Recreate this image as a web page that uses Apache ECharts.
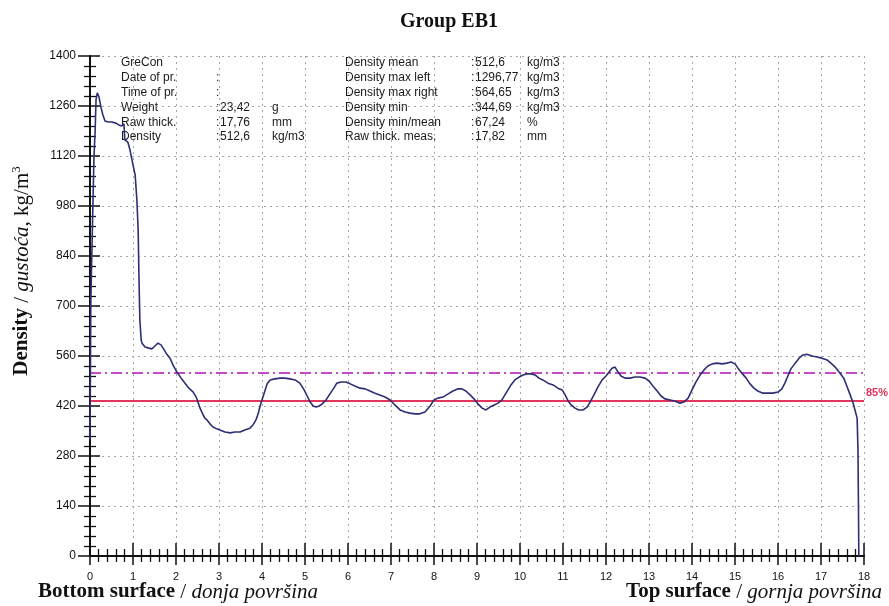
<!DOCTYPE html>
<html>
<head>
<meta charset="utf-8">
<script src="https://cdn.jsdelivr.net/npm/echarts@6/dist/echarts.min.js"></script>
<style>
  html, body { margin: 0; padding: 0; background: #fff; }
  #chart { width: 889px; height: 606px; }
</style>
</head>
<body>
<div id="chart"></div>
<script>
// Vertical density profile of panel EB1 (thickness in mm, density in kg/m3)
const thickness = [
  0.00, 0.02, 0.07, 0.09, 0.12, 0.14, 0.17, 0.21, 0.26, 0.30, 0.35, 0.42, 0.51, 0.60, 0.67, 0.74,
  0.79, 0.81, 0.88, 0.93, 1.00, 1.05, 1.09, 1.12, 1.14, 1.16, 1.19, 1.21, 1.28, 1.37, 1.44, 1.51,
  1.58, 1.65, 1.70, 1.77, 1.86, 1.93, 2.02, 2.12, 2.21, 2.30, 2.40, 2.47, 2.51, 2.56, 2.60, 2.67,
  2.72, 2.79, 2.86, 2.95, 3.02, 3.14, 3.26, 3.37, 3.49, 3.60, 3.72, 3.79, 3.86, 3.91, 3.95, 4.00,
  4.05, 4.12, 4.19, 4.30, 4.42, 4.53, 4.65, 4.77, 4.88, 4.98, 5.05, 5.12, 5.19, 5.26, 5.33, 5.40,
  5.49, 5.58, 5.67, 5.74, 5.84, 5.95, 6.05, 6.16, 6.28, 6.40, 6.51, 6.63, 6.74, 6.86, 6.98, 7.09,
  7.21, 7.33, 7.44, 7.56, 7.67, 7.79, 7.91, 8.00, 8.09, 8.21, 8.33, 8.44, 8.56, 8.65, 8.74, 8.84,
  8.93, 9.02, 9.12, 9.21, 9.30, 9.40, 9.49, 9.58, 9.65, 9.72, 9.79, 9.88, 9.98, 10.07, 10.16, 10.26,
  10.35, 10.44, 10.53, 10.65, 10.77, 10.88, 10.98, 11.05, 11.12, 11.19, 11.28, 11.37, 11.47, 11.56, 11.63, 11.72,
  11.81, 11.91, 12.00, 12.07, 12.14, 12.21, 12.28, 12.35, 12.44, 12.56, 12.67, 12.79, 12.91, 13.00, 13.09, 13.19,
  13.28, 13.37, 13.49, 13.60, 13.72, 13.81, 13.91, 14.00, 14.09, 14.19, 14.28, 14.37, 14.47, 14.58, 14.70, 14.81,
  14.91, 15.00, 15.07, 15.16, 15.26, 15.35, 15.44, 15.53, 15.65, 15.77, 15.88, 16.00, 16.09, 16.16, 16.23, 16.30,
  16.40, 16.49, 16.58, 16.67, 16.79, 16.91, 17.02, 17.14, 17.23, 17.33, 17.42, 17.53, 17.60, 17.67, 17.74, 17.79,
  17.84, 17.86, 17.87, 17.88
];
const density = [
  325, 717, 997, 1109, 1193, 1277, 1296.77, 1285, 1254, 1235, 1218, 1215, 1215, 1212, 1207, 1204,
  1210, 1165, 1159, 1137, 1095, 1067, 997, 913, 773, 661, 605, 596, 585, 582, 580, 588,
  596, 591, 582, 568, 554, 535, 515, 498, 484, 470, 459, 445, 431, 414, 403, 386,
  381, 370, 361, 356, 353, 347, 344.69, 347, 347, 353, 358, 367, 381, 398, 417, 437,
  456, 482, 493, 496, 498, 498, 496, 493, 484, 465, 448, 431, 420, 417, 420, 426,
  437, 454, 470, 484, 487, 487, 482, 476, 470, 468, 462, 456, 451, 445, 437, 423,
  409, 403, 400, 398, 398, 403, 420, 437, 442, 445, 454, 462, 468, 468, 462, 451,
  440, 426, 414, 409, 417, 423, 428, 437, 451, 465, 479, 493, 501, 507, 510, 510,
  507, 498, 493, 484, 479, 470, 465, 451, 434, 423, 414, 409, 409, 417, 431, 451,
  473, 493, 504, 515, 526, 529, 515, 504, 498, 498, 501, 501, 498, 490, 476, 462,
  448, 440, 437, 434, 428, 431, 442, 465, 487, 507, 521, 532, 538, 540, 538, 540,
  543, 538, 526, 512, 498, 482, 470, 462, 456, 456, 456, 459, 468, 484, 504, 524,
  540, 554, 563, 564.65, 560, 557, 554, 549, 540, 529, 515, 498, 476, 454, 431, 409,
  386, 297, 157, 0
];

// Reference levels: mean density and 85 % of the mean
const densityMean = 512.6;
const lowerLimit = 0.85 * densityMean;

// Axis ranges and tick steps
const xMin = 0, xMax = 18, xStep = 1;
const yMin = 0, yMax = 1400, yStep = 140;

// Measurement report block
const infoLeftNames = ['GreCon', 'Date of pr.', 'Time of pr.', 'Weight', 'Raw thick.', 'Density'];
const infoLeftColons = ['', ':', ':', ':', ':', ':'];
const infoLeftValues = ['', '', '', '23,42', '17,76', '512,6'];
const infoLeftUnits = ['', '', '', 'g', 'mm', 'kg/m3'];
const infoRightNames = ['Density mean', 'Density max left', 'Density max right', 'Density min', 'Density min/mean', 'Raw thick. meas.'];
const infoRightValues = ['512,6', '1296,77', '564,65', '344,69', '67,24', '17,82'];
const infoRightUnits = ['kg/m3', 'kg/m3', 'kg/m3', 'kg/m3', '%', 'mm'];

const chart = echarts.init(document.getElementById('chart'), null, { renderer: 'canvas' });

const profile = thickness.map((t, i) => [t, density[i]]);

const SANS = 'Liberation Sans, Arial, sans-serif';
const SERIF = 'Liberation Serif, Times New Roman, serif';

const gridLine = { show: true, lineStyle: { color: '#a8a8a8', width: 1, type: [2, 4] } };

// Info block text elements
const infoText = [];
const rowY = (i) => 63 + i * 14.8;
const txt = (x, y, s) => ({
  type: 'text', x: x, y: y, silent: true,
  style: { text: s, font: '12px ' + SANS, fill: '#1a1a1a', verticalAlign: 'middle' }
});
infoLeftNames.forEach((s, i) => {
  infoText.push(txt(121, rowY(i), s));
  if (infoLeftColons[i]) infoText.push(txt(216, rowY(i), infoLeftColons[i]));
  if (infoLeftValues[i]) infoText.push(txt(220, rowY(i), infoLeftValues[i]));
  if (infoLeftUnits[i]) infoText.push(txt(272, rowY(i), infoLeftUnits[i]));
});
infoRightNames.forEach((s, i) => {
  infoText.push(txt(345, rowY(i), s));
  infoText.push(txt(471, rowY(i), ':'));
  infoText.push(txt(475, rowY(i), infoRightValues[i]));
  infoText.push(txt(527, rowY(i), infoRightUnits[i]));
});

const baseY = {
  type: 'value', min: yMin, max: yMax, interval: yStep, position: 'left'
};
const baseX = {
  type: 'value', min: xMin, max: xMax, interval: xStep, position: 'bottom'
};

const serifRich = {
  b: { fontFamily: SERIF, fontSize: 21, fontWeight: 'bold', fill: '#111' },
  i: { fontFamily: SERIF, fontSize: 21, fontStyle: 'italic', fill: '#111' },
  s: { fontFamily: SERIF, fontSize: 13, fill: '#111', padding: [0, 0, 11, 0] }
};

chart.setOption({
  animation: false,
  backgroundColor: '#ffffff',
  title: {
    text: 'Group EB1',
    left: 444, top: 7, textAlign: 'center',
    textStyle: { fontFamily: SERIF, fontSize: 20, fontWeight: 'bold', color: '#111' }
  },
  grid: { left: 90, right: 25, top: 56, bottom: 50, containLabel: false },
  xAxis: [
    Object.assign({}, baseX, {
      axisLine: { show: true, lineStyle: { color: '#111', width: 2 } },
      axisTick: { show: true, inside: false, length: 9, lineStyle: { color: '#111', width: 1.5 } },
      minorTick: { show: true, splitNumber: 5, length: 6, lineStyle: { color: '#111', width: 1.3 } },
      axisLabel: { show: true, margin: 15, fontFamily: SANS, fontSize: 11, color: '#111' },
      splitLine: gridLine,
      minorSplitLine: { show: false }
    }),
    Object.assign({}, baseX, {
      axisLine: { show: false },
      axisTick: { show: true, inside: true, length: 13, lineStyle: { color: '#111', width: 1.5 } },
      minorTick: { show: true, splitNumber: 5, length: 7, lineStyle: { color: '#111', width: 1.3 } },
      axisLabel: { show: false },
      splitLine: { show: false }
    })
  ],
  yAxis: [
    Object.assign({}, baseY, {
      axisLine: { show: true, lineStyle: { color: '#111', width: 2 } },
      axisTick: { show: true, inside: false, length: 12, lineStyle: { color: '#111', width: 1.5 } },
      minorTick: { show: true, splitNumber: 5, length: 6, lineStyle: { color: '#111', width: 1.3 } },
      axisLabel: {
        show: true, margin: 14, fontFamily: SANS, fontSize: 12, color: '#111',
        formatter: (v) => String(v)
      },
      splitLine: gridLine,
      minorSplitLine: { show: false }
    }),
    Object.assign({}, baseY, {
      axisLine: { show: false },
      axisTick: { show: true, inside: true, length: 10, lineStyle: { color: '#111', width: 1.5 } },
      minorTick: { show: true, splitNumber: 5, length: 6, lineStyle: { color: '#111', width: 1.3 } },
      axisLabel: { show: false },
      splitLine: { show: false }
    })
  ],
  series: [{
    type: 'line',
    xAxisIndex: 0,
    yAxisIndex: 0,
    data: profile,
    showSymbol: false,
    smooth: false,
    lineStyle: { color: '#2c2f74', width: 1.6 },
    z: 3,
    markLine: {
      silent: true,
      symbol: 'none',
      z: 2,
      data: [
        {
          yAxis: densityMean,
          lineStyle: { color: '#c54ac8', width: 2, type: [11, 4, 2, 4] },
          label: { show: false }
        },
        {
          yAxis: lowerLimit,
          lineStyle: { color: '#e3345c', width: 2, type: 'solid' },
          label: {
            show: true, position: 'end', formatter: '85%', distance: 2,
            offset: [0, -7],
            fontFamily: SANS, fontSize: 11, fontWeight: 'bold', color: '#e3345c'
          }
        }
      ]
    }
  }],
  graphic: infoText.concat([
    {
      type: 'text', x: 22, y: 271, rotation: Math.PI / 2, silent: true,
      style: {
        text: '{b|Density} / {i|gustoća}, kg/m{s|3}',
        align: 'center', verticalAlign: 'middle',
        font: '21px ' + SERIF, fill: '#111',
        rich: serifRich
      }
    },
    {
      type: 'text', x: 38, y: 592, silent: true,
      style: {
        text: '{b|Bottom surface} / {i|donja površina}',
        align: 'left', verticalAlign: 'middle',
        font: '21px ' + SERIF, fill: '#111',
        rich: serifRich
      }
    },
    {
      type: 'text', x: 882, y: 592, silent: true,
      style: {
        text: '{b|Top surface} / {i|gornja površina}',
        align: 'right', verticalAlign: 'middle',
        font: '21px ' + SERIF, fill: '#111',
        rich: serifRich
      }
    }
  ])
});
</script>
</body>
</html>
